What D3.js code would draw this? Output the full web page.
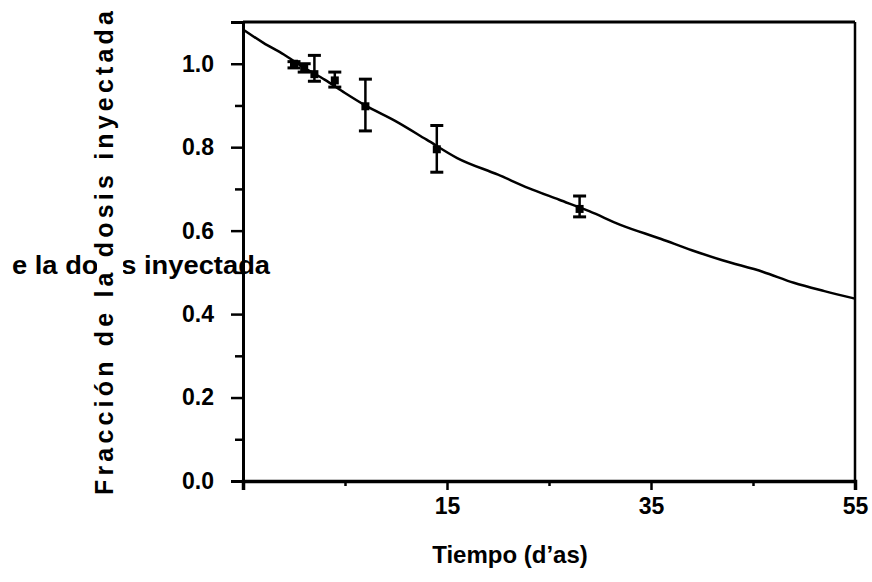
<!DOCTYPE html>
<html>
<head>
<meta charset="utf-8">
<script src="https://cdn.jsdelivr.net/npm/d3@7"></script>
<style>
  body { margin: 0; background: #fff; }
  text { font-family: "Liberation Sans", Arial, sans-serif; font-weight: bold; fill: #000; }
</style>
</head>
<body>
<script>
// measured points (days, fraction) with error bar limits
var days    = [0, 1, 2, 4, 7, 14, 28];
var frac    = [1.00, 0.99, 0.975, 0.96, 0.898, 0.795, 0.652];
var fracLo  = [0.99, 0.98, 0.958, 0.944, 0.839, 0.740, 0.633];
var fracHi  = [1.005, 1.0, 1.02, 0.98, 0.963, 0.852, 0.683];

// fitted curve
var curveX = [-5, -3, -1, 1, 3, 5, 7, 10, 13, 16, 20, 23, 26, 29, 32, 36, 39, 42, 46, 49, 52, 55];
var curveY = [1.082, 1.050, 1.022, 0.990, 0.962, 0.930, 0.900, 0.862, 0.818, 0.774, 0.734, 0.702,
              0.674, 0.646, 0.614, 0.580, 0.553, 0.529, 0.501, 0.475, 0.455, 0.437];

var xMajor = [-5, 15, 35, 55];
var xMinor = [5, 25, 45];
var xLabels = [15, 35, 55];
var yMajor = [0, 0.2, 0.4, 0.6, 0.8, 1.0];
var yMinor = [0.1, 0.3, 0.5, 0.7, 0.9];

var w = 872, h = 582;
var mLeft = 243, mRight = 855, mTop = 22, mBottom = 481;

var svg = d3.select("body").append("svg")
            .attr("width", w)
            .attr("height", h);

var x = d3.scaleLinear().domain([-5, 55]).range([mLeft, mRight]);
var y = d3.scaleLinear().domain([0, 1.1]).range([mBottom, mTop]);

// ghost horizontal label, partly hidden behind the vertical one
svg.append("text")
    .attr("x", 12)
    .attr("y", 274)
    .style("font-size", "26px")
    .attr("textLength", 258)
    .attr("lengthAdjust", "spacingAndGlyphs")
    .text("e la dosis inyectada");

svg.append("rect")
    .attr("x", 97)
    .attr("y", 0)
    .attr("width", 26)
    .attr("height", 500)
    .attr("fill", "#fff");

svg.append("text")
    .attr("transform", "translate(113,495) rotate(-90)")
    .style("font-size", "25px")
    .attr("textLength", 484)
    .attr("lengthAdjust", "spacing")
    .text("Fracción de la dosis inyectada");

// frame (top and right)
svg.append("line")
    .attr("x1", mLeft).attr("x2", mRight)
    .attr("y1", mTop).attr("y2", mTop)
    .attr("stroke", "#000").attr("stroke-width", 3);
svg.append("line")
    .attr("x1", mRight).attr("x2", mRight)
    .attr("y1", mTop).attr("y2", mBottom)
    .attr("stroke", "#000").attr("stroke-width", 2.5);

// y axis
svg.append("g")
    .attr("transform", "translate(" + mLeft + ",0)")
    .call(d3.axisLeft(y).tickValues(yMajor).tickFormat(d3.format(".1f")).tickSize(12).tickPadding(17));
svg.append("g")
    .attr("transform", "translate(" + mLeft + ",0)")
    .call(d3.axisLeft(y).tickValues(yMinor).tickFormat("").tickSize(8))
    .select(".domain").remove();

// x axis
var xAxis = svg.append("g")
    .attr("transform", "translate(0," + mBottom + ")")
    .call(d3.axisBottom(x).tickValues(xMajor)
          .tickFormat(function(d) { return xLabels.indexOf(d) >= 0 ? d : ""; })
          .tickSize(9).tickPadding(8));
svg.append("g")
    .attr("transform", "translate(0," + mBottom + ")")
    .call(d3.axisBottom(x).tickValues(xMinor).tickFormat("").tickSize(5))
    .select(".domain").remove();

svg.selectAll(".domain").attr("stroke-width", 3).attr("stroke", "#000");
xAxis.select(".domain").attr("stroke-width", 3.5);
svg.selectAll(".tick line").attr("stroke", "#000").attr("stroke-width", 2.5);
svg.selectAll(".tick text")
    .style("font-size", "23px")
    .style("font-family", "'Liberation Sans', Arial, sans-serif")
    .style("font-weight", "bold");

// x title
svg.append("text")
    .attr("x", 510)
    .attr("y", 563)
    .attr("text-anchor", "middle")
    .style("font-size", "24px")
    .text("Tiempo (d\u2019as)");

// fitted curve
var line = d3.line()
    .x(function(d) { return x(d[0]); })
    .y(function(d) { return y(d[1]); })
    .curve(d3.curveMonotoneX);

svg.append("path")
    .datum(d3.zip(curveX, curveY))
    .attr("d", line)
    .attr("fill", "none")
    .attr("stroke", "#000")
    .attr("stroke-width", 2.5);

// error bars and points
var pts = days.map(function(d, i) {
    return { x: d, y: frac[i], lo: fracLo[i], hi: fracHi[i] };
});

var g = svg.append("g").selectAll("g").data(pts).enter().append("g");

g.append("line")
    .attr("x1", function(d) { return x(d.x); })
    .attr("x2", function(d) { return x(d.x); })
    .attr("y1", function(d) { return y(d.lo); })
    .attr("y2", function(d) { return y(d.hi); })
    .attr("stroke", "#000").attr("stroke-width", 2.5);

["lo", "hi"].forEach(function(k) {
    g.append("line")
        .attr("x1", function(d) { return x(d.x) - 6.5; })
        .attr("x2", function(d) { return x(d.x) + 6.5; })
        .attr("y1", function(d) { return y(d[k]); })
        .attr("y2", function(d) { return y(d[k]); })
        .attr("stroke", "#000").attr("stroke-width", 3);
});

g.append("rect")
    .attr("x", function(d) { return x(d.x) - 4; })
    .attr("y", function(d) { return y(d.y) - 4; })
    .attr("width", 8)
    .attr("height", 8)
    .attr("fill", "#000");
</script>
</body>
</html>
